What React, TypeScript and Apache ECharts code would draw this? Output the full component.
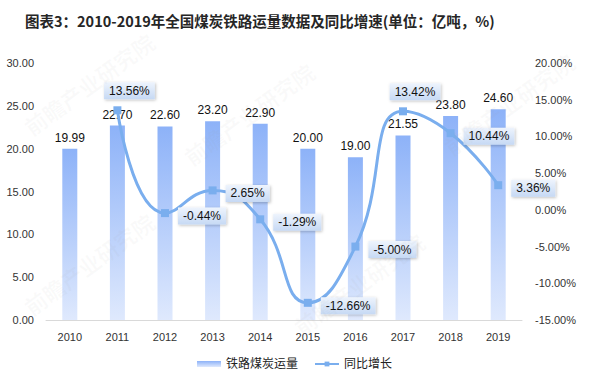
import React, { useEffect, useRef } from "react";
import * as echarts from "echarts";

const years = ["2010", "2011", "2012", "2013", "2014", "2015", "2016", "2017", "2018", "2019"];
const volume = [19.99, 22.7, 22.6, 23.2, 22.9, 20.0, 19.0, 21.55, 23.8, 24.6];
const growth: (number | null)[] = [null, 13.56, -0.44, 2.65, -1.29, -12.66, -5.0, 13.42, 10.44, 3.36];
const topLabelYears = ["2011", "2017"];

const FONT = "'Liberation Sans', 'Noto Sans CJK SC', sans-serif";

export default function App() {
  const ref = useRef<HTMLDivElement>(null);
  useEffect(() => {
    if (!ref.current) return;
    const chart = echarts.init(ref.current, null, { renderer: "svg" });
    const labelBg = new echarts.graphic.LinearGradient(0, 0, 0, 1, [
      { offset: 0, color: "#eef4fd" },
      { offset: 1, color: "#c6d9f4" },
    ]);
    const barGrad = new echarts.graphic.LinearGradient(0, 0, 0, 1, [
      { offset: 0, color: "#8db2f8" },
      { offset: 1, color: "#dfe9fd" },
    ]);
    const lineData = growth.map((v, i) => {
      if (v === null) return null;
      const top = topLabelYears.includes(years[i]);
      return {
        value: v,
        label: top
          ? { position: "top", offset: [12, -2] }
          : { position: "right", offset: [4, 3] },
      };
    });
    const watermarks = [
      { x: 20, y: 120 },
      { x: 180, y: 150 },
      { x: 440, y: 140 },
      { x: 290, y: 320 },
      { x: 20, y: 300 },
    ].map((p) => ({
      type: "text",
      x: p.x,
      y: p.y,
      rotation: Math.PI / 5,
      silent: true,
      z: 100,
      style: {
        text: "前瞻产业研究院",
        fontSize: 22,
        fontWeight: "bold",
        fontFamily: "'Noto Sans CJK SC'",
        fill: "rgba(160,160,160,0.06)",
      },
    }));
    chart.setOption({
      animation: false,
      title: {
        text: "图表3：2010-2019年全国煤炭铁路运量数据及同比增速(单位：亿吨，%)",
        left: 20,
        top: 8,
        textStyle: { fontSize: 14.5, fontWeight: "bold", color: "#262626", fontFamily: "'Noto Sans CJK SC', sans-serif" },
      },
      graphic: watermarks,
      grid: { left: 46, right: 67, top: 63, bottom: 59 },
      legend: {
        bottom: 4,
        left: "center",
        itemGap: 16,
        itemWidth: 24,
        itemHeight: 6,
        textStyle: { fontSize: 12, color: "#222", fontFamily: FONT },
        data: [
          { name: "铁路煤炭运量", icon: "rect" },
          { name: "同比增长" },
        ],
      },
      xAxis: {
        type: "category",
        data: years,
        axisLine: { lineStyle: { color: "#d9d9d9" } },
        axisTick: { show: false },
        axisLabel: { color: "#333", fontSize: 11, margin: 11, fontFamily: FONT },
      },
      yAxis: [
        {
          type: "value",
          min: 0,
          max: 30,
          interval: 5,
          splitLine: { show: false },
          axisLabel: {
            color: "#333",
            fontSize: 11,
            margin: 12,
            fontFamily: FONT,
            formatter: (v: number) => v.toFixed(2),
          },
        },
        {
          type: "value",
          min: -15,
          max: 20,
          interval: 5,
          splitLine: { show: false },
          axisLabel: {
            color: "#333",
            fontSize: 11,
            margin: 13,
            fontFamily: FONT,
            formatter: (v: number) => v.toFixed(2) + "%",
          },
        },
      ],
      series: [
        {
          name: "铁路煤炭运量",
          type: "bar",
          data: volume,
          barWidth: 15,
          itemStyle: { color: barGrad },
          label: {
            show: true,
            position: "top",
            color: "#111",
            fontSize: 12,
            fontFamily: FONT,
            formatter: (p: any) => Number(p.value).toFixed(2),
          },
        },
        {
          name: "同比增长",
          type: "line",
          yAxisIndex: 1,
          data: lineData,
          smooth: 0.5,
          connectNulls: false,
          symbol: "rect",
          symbolSize: 8,
          lineStyle: { color: "#7aaeee", width: 3 },
          itemStyle: { color: "#7aaeee" },
          label: {
            show: true,
            color: "#111",
            fontSize: 12,
            fontFamily: FONT,
            padding: [3, 5, 2, 5],
            backgroundColor: labelBg,
            shadowColor: "rgba(0,0,0,0.25)",
            shadowBlur: 3,
            shadowOffsetX: 1,
            shadowOffsetY: 1,
            formatter: (p: any) => Number(p.value).toFixed(2) + "%",
          },
          z: 5,
        },
      ],
    });
    return () => chart.dispose();
  }, []);
  return <div ref={ref} style={{ width: 589, height: 379, position: "absolute", left: 0, top: 0, background: "#fff" }} />;
}
